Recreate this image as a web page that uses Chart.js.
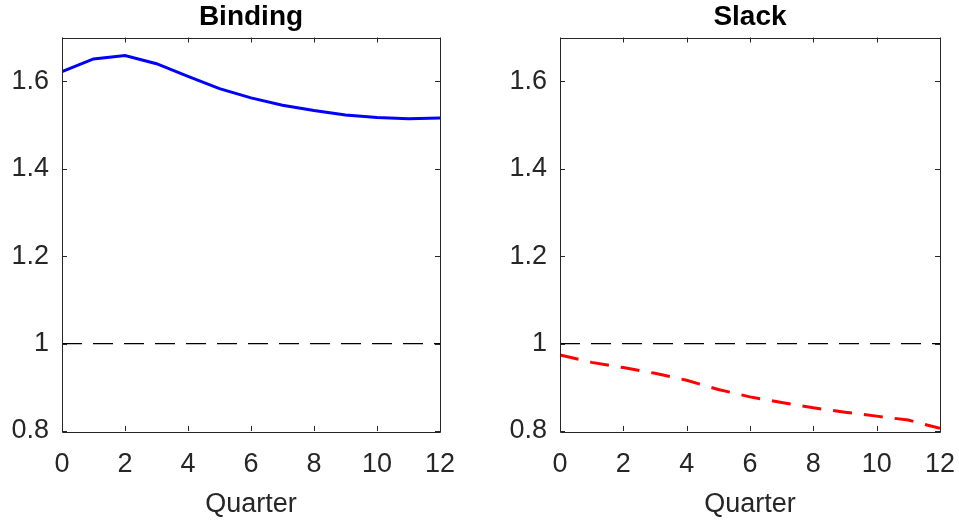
<!DOCTYPE html>
<html><head><meta charset="utf-8">
<script src="https://cdn.jsdelivr.net/npm/chart.js@4"></script>
<style>
html,body{margin:0;padding:0;background:#fff;}
#wrap{position:relative;width:959px;height:523px;}
.c{position:absolute;top:0;}
</style></head>
<body><div id="wrap">
<div class="c" style="left:0;width:480px;height:523px"><canvas id="c1"></canvas></div>
<div class="c" style="left:480px;width:479px;height:523px"><canvas id="c2"></canvas></div>
</div>
<script>
const quarters = [0,1,2,3,4,5,6,7,8,9,10,11,12];
const binding = [1.622,1.651,1.659,1.640,1.611,1.583,1.562,1.545,1.533,1.523,1.517,1.514,1.516];
const slack   = [0.974,0.957,0.945,0.932,0.916,0.895,0.878,0.865,0.853,0.843,0.834,0.825,0.806];
const refX = [0,12];
const refY = [1,1];
const xTicks = [0,2,4,6,8,10,12];
const yTicks = [0.8,1,1.2,1.4,1.6];
const titles = ['Binding','Slack'];
const xLabel = 'Quarter';

const AX = '#262626';
const FONT = 'Liberation Sans, Arial, Helvetica, sans-serif';

const boxPlugin = {
  id:'box',
  afterDatasetsDraw(chart, args, opts){
    const {ctx, chartArea:a, scales:{x,y}} = chart;
    ctx.save();
    ctx.strokeStyle = AX; ctx.lineWidth = 1;
    ctx.beginPath();
    ctx.rect(Math.round(a.left)+0.5, Math.round(a.top)+0.5, Math.round(a.right-a.left), Math.round(a.bottom-a.top));
    ctx.stroke();
    const L = 5;
    ctx.beginPath();
    xTicks.forEach(v=>{
      const px = Math.round(x.getPixelForValue(v))+0.5;
      ctx.moveTo(px,a.bottom); ctx.lineTo(px,a.bottom-L);
      ctx.moveTo(px,a.top); ctx.lineTo(px,a.top+L);
    });
    yTicks.forEach(v=>{
      const py = Math.round(y.getPixelForValue(v))+0.5;
      ctx.moveTo(a.left,py); ctx.lineTo(a.left+L,py);
      ctx.moveTo(a.right,py); ctx.lineTo(a.right-L,py);
    });
    ctx.stroke();
    // axes title, centred over the plot box
    ctx.fillStyle = '#000';
    ctx.font = 'bold 28px ' + FONT;
    ctx.textAlign = 'center';
    ctx.textBaseline = 'alphabetic';
    ctx.fillText(opts.text, (a.left + a.right) / 2, 24.5);
    ctx.restore();
  }
};

function makeChart(id, title, series, color, dash, yWidth, padRight){
  const pts = quarters.map((q,i)=>({x:q,y:series[i]}));
  const ref = refX.map((q,i)=>({x:q,y:refY[i]}));
  return new Chart(document.getElementById(id), {
    type:'line',
    data:{datasets:[
      {data:ref, borderColor:'#000', borderWidth:1.2, borderDash:[20,11], pointRadius:0, fill:false, tension:0},
      {data:pts, borderColor:color, borderWidth:3, borderDash:dash, pointRadius:0, fill:false, tension:0}
    ]},
    options:{
      responsive:true, maintainAspectRatio:false, animation:false,
      layout:{padding:{left:0,right:padRight,top:37.5,bottom:2}},
      plugins:{
        legend:{display:false}, tooltip:{enabled:false}, title:{display:false},
        box:{text:title}
      },
      scales:{
        x:{type:'linear', min:0, max:12,
          afterBuildTicks(s){ s.ticks = xTicks.map(v=>({value:v})); },
          afterFit(s){ s.height = 90; s.paddingLeft = 0; s.paddingRight = 0; },
          grid:{display:false, drawTicks:false},
          border:{display:false},
          ticks:{color:AX, font:{family:FONT,size:27}, padding:17, maxRotation:0, autoSkip:false, callback:v=>String(v)},
          title:{display:true, text:xLabel, color:AX, font:{family:FONT,size:27,lineHeight:1.2}, padding:0}
        },
        y:{type:'linear', min:0.8, max:1.7,
          afterBuildTicks(s){ s.ticks = yTicks.map(v=>({value:v})); },
          afterFit(s){ s.width = yWidth; s.paddingTop = 0; s.paddingBottom = 0; },
          grid:{display:false, drawTicks:false},
          border:{display:false},
          ticks:{color:AX, font:{family:FONT,size:27}, padding:13, autoSkip:false, callback:v=>String(v)}
        }
      }
    },
    plugins:[boxPlugin]
  });
}
makeChart('c1', titles[0], binding, '#0000ff', [], 62, 40);
makeChart('c2', titles[1], slack, '#ff0000', [19,12], 80, 19);
</script>
</body></html>
